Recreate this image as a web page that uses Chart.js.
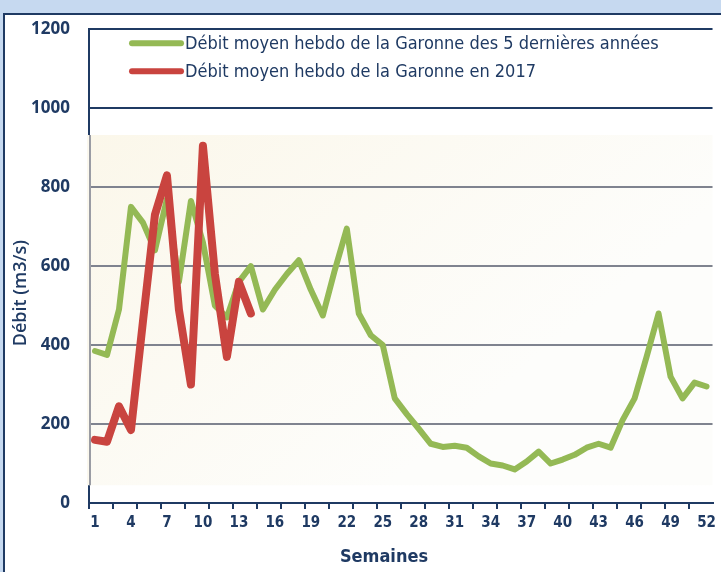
<!DOCTYPE html>
<html><head><meta charset="utf-8">
<script src="https://cdn.jsdelivr.net/npm/chart.js@4/dist/chart.umd.min.js"></script>
<style>html,body{margin:0;padding:0;background:#fff;overflow:hidden}#wrap{width:721px;height:572px;position:relative}canvas{display:block}</style>
</head><body>
<div id="wrap"><canvas id="c"></canvas></div>
<script>
const weeks = ['1','2','3','4','5','6','7','8','9','10','11','12','13','14','15','16','17','18','19','20','21','22','23','24','25','26',
  '27','28','29','30','31','32','33','34','35','36','37','38','39','40','41','42','43','44','45','46','47','48','49','50','51','52'];
const moyenne5ans = [385,375,490,750,710,640,770,560,765,660,500,470,560,600,490,540,580,615,540,475,590,695,480,425,400,265,
  225,188,150,142,145,140,118,100,95,85,105,130,100,110,122,140,150,140,210,265,370,480,320,265,305,295];
const debit2017 = [160,155,245,185,460,730,830,490,300,905,580,370,560,480,null,null,null,null,null,null,null,null,null,null,null,null,
  null,null,null,null,null,null,null,null,null,null,null,null,null,null,null,null,null,null,null,null,null,null,null,null,null,null];
const shownWeekLabels = ['1','4','7','10','13','16','19','22','25','28','31','34','37','40','43','46','49','52'];
const yTicks = [0, 200, 400, 600, 800, 1000, 1200];
const seriesNames = ['Débit moyen hebdo de la Garonne des 5 dernières années','Débit moyen hebdo de la Garonne en 2017'];
const yTitle = 'Débit (m3/s)';
const xTitle = 'Semaines';

const NAVY = '#1f3a63';
const GRID_GRAY = '#7f838f';
const GREEN = '#94b955';
const RED = '#c9443f';
const CONDENSED = '"Liberation Sans Narrow", "DejaVu Sans Condensed", sans-serif';

const framePlugin = {
  id: 'frame',
  beforeDraw(chart) {
    const {ctx, width, height, chartArea, scales} = chart;
    ctx.save();
    ctx.fillStyle = '#c6d9f0';
    ctx.fillRect(0, 0, width, height);
    ctx.fillStyle = '#ffffff';
    ctx.fillRect(4, 14, width - 4, height - 14);
    ctx.fillStyle = NAVY;
    ctx.fillRect(3, 13, width - 3, 2);
    ctx.fillRect(3, 13, 2, height - 13);
    const yTop = scales.y.getPixelForValue(932);
    const yBot = scales.y.getPixelForValue(45);
    const g = ctx.createLinearGradient(chartArea.left, yTop, chartArea.left + 300, yBot);
    g.addColorStop(0, '#fbf7ea');
    g.addColorStop(1, '#fdfdfb');
    ctx.fillStyle = g;
    ctx.fillRect(chartArea.left - 1, yTop, chartArea.right - chartArea.left + 1, yBot - yTop);
    ctx.restore();
  },
  beforeDatasetsDraw(chart) {
    const {ctx, chartArea, scales} = chart;
    const yTop = scales.y.getPixelForValue(932);
    const yBot = scales.y.getPixelForValue(45);
    ctx.save();
    ctx.fillStyle = '#fbf8ee';
    ctx.fillRect(chartArea.left - 2, yTop, 4, yBot - yTop);
    ctx.fillStyle = '#9a9ca4';
    ctx.fillRect(chartArea.left, yTop, 2, yBot - yTop);
    ctx.restore();
  },
  afterDraw(chart) {
    const {ctx, chartArea} = chart;
    ctx.save();
    chart.data.datasets.forEach((ds, i) => {
      const y = chartArea.top + 14 + i * 28;
      ctx.strokeStyle = ds.borderColor;
      ctx.lineWidth = 6;
      ctx.lineCap = 'round';
      ctx.beginPath();
      ctx.moveTo(chartArea.left + 43, y);
      ctx.lineTo(chartArea.left + 92, y);
      ctx.stroke();
      ctx.fillStyle = NAVY;
      ctx.font = '18px ' + CONDENSED;
      ctx.textBaseline = 'middle';
      ctx.textAlign = 'left';
      ctx.fillText(ds.label, chartArea.left + 96, y + 1);
    });
    // x axis title
    ctx.fillStyle = NAVY;
    ctx.font = 'bold 18px ' + CONDENSED;
    ctx.textAlign = 'center';
    ctx.textBaseline = 'middle';
    ctx.fillText(xTitle, chartArea.left + 295, chartArea.bottom + 54);
    // y axis title
    ctx.translate(21, (chartArea.top + chartArea.bottom) / 2 + 27);
    ctx.rotate(-Math.PI / 2);
    ctx.font = '600 18px "Open Sans", sans-serif';
    ctx.fillText(yTitle, 0, 0);
    ctx.restore();
  }
};

new Chart(document.getElementById('c'), {
  type: 'line',
  data: {
    labels: weeks,
    datasets: [
      {label: seriesNames[0], data: moyenne5ans, borderColor: GREEN, backgroundColor: GREEN, borderWidth: 6,
       pointRadius: 0, tension: 0, borderJoinStyle: 'round', borderCapStyle: 'round', order: 2},
      {label: seriesNames[1], data: debit2017, borderColor: RED, backgroundColor: RED, borderWidth: 8,
       pointRadius: 0, tension: 0, borderJoinStyle: 'round', borderCapStyle: 'round', spanGaps: false, order: 1}
    ]
  },
  options: {
    responsive: true,
    maintainAspectRatio: false,
    animation: false,
    devicePixelRatio: 1,
    layout: {padding: {top: 29, right: 8, bottom: 0, left: 0}},
    plugins: {legend: {display: false}, tooltip: {enabled: false}},
    scales: {
      x: {
        type: 'category',
        offset: true,
        afterFit(scale) { scale.height = 69; },
        grid: {
          display: true, drawOnChartArea: false, drawTicks: true, tickLength: 6, offset: true,
          color: (c) => (c.index % 2 === 0 ? NAVY : 'rgba(0,0,0,0)'), lineWidth: 2
        },
        border: {display: true, color: NAVY, width: 2},
        ticks: {
          autoSkip: false, maxRotation: 0, padding: 5, color: NAVY,
          font: {family: CONDENSED, weight: 'bold', size: 15},
          callback(v) { const l = this.getLabelForValue(v); return shownWeekLabels.includes(l) ? l : ''; }
        },
        title: {display: false}
      },
      y: {
        min: 0, max: 1200,
        afterFit(scale) { scale.width = 89; },
        afterBuildTicks(scale) { scale.ticks = yTicks.map(v => ({value: v})); },
        grid: {
          drawTicks: false,
          color: (c) => (c.tick && c.tick.value >= 1000 ? NAVY : (c.tick && c.tick.value === 0 ? 'rgba(0,0,0,0)' : GRID_GRAY)),
          lineWidth: 2
        },
        border: {display: true, color: NAVY, width: 2},
        ticks: {padding: 19, color: NAVY, font: {family: '"Open Sans", sans-serif', weight: 'bold', size: 17},
          callback(v) { return String(v); }}
      }
    }
  },
  plugins: [framePlugin]
});
</script>
</body></html>
